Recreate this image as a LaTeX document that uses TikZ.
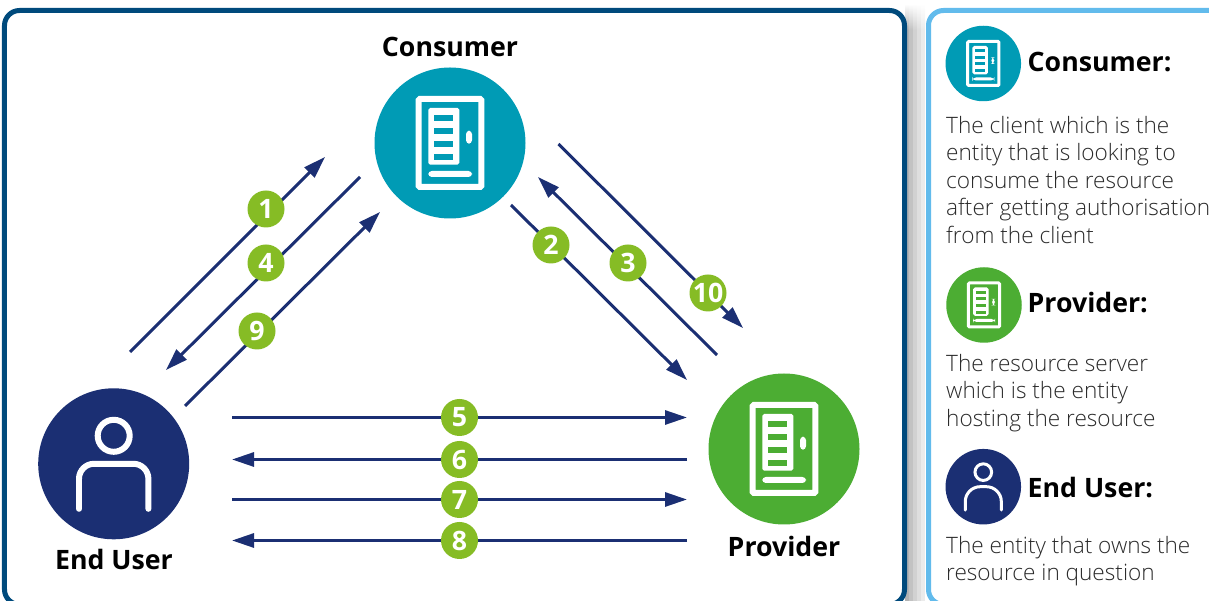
\documentclass[tikz,border=0pt]{standalone}
\usepackage{fontspec}
\setmainfont{Open Sans}
\newfontfamily\lightfont{Open Sans Light}
\usetikzlibrary{arrows.meta}
\definecolor{frameBlue}{HTML}{004A7C}
\definecolor{panelBlue}{HTML}{62BBEC}
\definecolor{consumerTeal}{HTML}{009BB5}
\definecolor{providerGreen}{HTML}{4CAD33}
\definecolor{userNavy}{HTML}{1B2F73}
\definecolor{badgeGreen}{HTML}{86BC25}
\definecolor{bodyGray}{HTML}{2A2A2A}
\tikzset{
    actor/.style={circle, inner sep=0pt, minimum size=1.51cm},
    miniactor/.style={circle, inner sep=0pt, minimum size=0.755cm},
    badge/.style={circle, fill=badgeGreen, text=white, inner sep=0pt, minimum size=0.37cm, font=\fontsize{7.6}{8}\selectfont\bfseries},
    flow/.style={draw=userNavy, line width=0.03cm, -{Triangle[length=0.22cm,width=0.14cm]}},
    title/.style={font=\fontsize{7.6}{9}\selectfont\bfseries, text=black, inner sep=0pt},
    blurb/.style={font=\lightfont\fontsize{6.43}{7.82}\selectfont, text=bodyGray, inner sep=0pt, anchor=north west, align=left},
    pics/door/.style n args={2}{code={
        \draw[white, line width=#2, rounded corners=0.3pt] (-0.313,-0.44) rectangle (0.313,0.44);
        \fill[white, rounded corners=0.5pt] (-0.217,-0.35) rectangle (0.093,0.217);
        \foreach \slot in {-0.28,-0.153,-0.02,0.113}
            \fill[#1] (-0.16,\slot) rectangle (0.033,\slot+0.06);
        \fill[white, rounded corners=1pt] (0.16,-0.123) rectangle (0.22,0.007);
        \fill[white, rounded corners=1pt] (-0.217,0.28) rectangle (0.22,0.34);
    }},
    pics/person/.style={code={
        \draw[white, line width=#1] (0,-0.28) circle (0.16);
        \draw[white, line width=#1, line cap=round, rounded corners=0.15cm] (-0.347,0.45) -- (-0.347,0) -- (0.347,0) -- (0.347,0.45);
    }}
}
\begin{document}
\begin{tikzpicture}[x=1cm, y=-1cm]
    \useasboundingbox (0,0) rectangle (12.09,6.01);
    % --- Sombra entre los marcos ---
    \foreach \x/\tone in {9.05/30,9.09/24,9.13/18,9.17/13,9.21/8} {
        \shade[top color=white, bottom color=black!\tone] (\x,0.04) rectangle (\x+0.04,0.3);
        \fill[black!\tone] (\x,0.3) rectangle (\x+0.04,6.01);
    }
    % --- Marcos ---
    \begin{scope}
        \clip (0,0) rectangle (12.09,6.01);
        \draw[frameBlue, line width=0.05cm, fill=white, rounded corners=0.15cm] (0.045,0.105) rectangle (9.045,6.045);
        \draw[panelBlue, line width=0.05cm, fill=white, rounded corners=0.15cm] (9.285,0.105) rectangle (12.4,6.045);
    \end{scope}
    % --- Actores ---
    \node[actor, fill=consumerTeal] (Consumer) at (4.50,1.43) {};
    \node[actor, fill=providerGreen] (Provider) at (7.84,4.49) {};
    \node[actor, fill=userNavy] (EndUser) at (1.137,4.638) {};
    \pic at (Consumer) {door={consumerTeal}{0.06cm}};
    \pic at (Provider) {door={providerGreen}{0.06cm}};
    \pic at (EndUser) {person=0.06cm};
    \node[title] (ConsumerName) at (4.50,0.47) {Consumer};
    \node[title] (ProviderName) at (7.84,5.46) {Provider};
    \node[title] (EndUserName) at (1.14,5.59) {End User};
    % --- Flechas entre actores ---
    \coordinate (s1) at (1.30,3.52);  \coordinate (e1) at (3.25,1.57);
    \coordinate (s2) at (5.11,2.05);  \coordinate (e2) at (6.87,3.80);
    \coordinate (s3) at (7.17,3.55);  \coordinate (e3) at (5.38,1.77);
    \coordinate (s4) at (3.60,1.77);  \coordinate (e4) at (1.66,3.70);
    \coordinate (s5) at (2.32,4.175);  \coordinate (e5) at (6.87,4.175);
    \coordinate (s6) at (6.87,4.595);  \coordinate (e6) at (2.32,4.595);
    \coordinate (s7) at (2.32,4.995);  \coordinate (e7) at (6.87,4.995);
    \coordinate (s8) at (6.87,5.405);  \coordinate (e8) at (2.32,5.405);
    \coordinate (s9) at (1.85,4.06);  \coordinate (e9) at (3.80,2.12);
    \coordinate (s10) at (5.585,1.44);  \coordinate (e10) at (7.43,3.28);
    \draw[flow] (s1) -- (e1);
    \draw[flow] (s2) -- (e2);
    \draw[flow] (s3) -- (e3);
    \draw[flow] (s4) -- (e4);
    \draw[flow] (s5) -- (e5);
    \draw[flow] (s6) -- (e6);
    \draw[flow] (s7) -- (e7);
    \draw[flow] (s8) -- (e8);
    \draw[flow] (s9) -- (e9);
    \draw[flow] (s10) -- (e10);
    % --- Pasos numerados ---
    \node[badge] (Step1) at (2.66,2.09) {1};
    \node[badge] (Step2) at (5.51,2.45) {2};
    \node[badge] (Step3) at (6.28,2.63) {3};
    \node[badge] (Step4) at (2.66,2.63) {4};
    \node[badge] (Step5) at (4.595,4.175) {5};
    \node[badge] (Step6) at (4.595,4.595) {6};
    \node[badge] (Step7) at (4.595,4.995) {7};
    \node[badge] (Step8) at (4.595,5.405) {8};
    \node[badge] (Step9) at (2.57,3.31) {9};
    \node[badge] (Step10) at (7.08,2.93) {10};
    % --- Leyenda ---
    \node[miniactor, fill=consumerTeal] (MiniConsumer) at (9.833,0.635) {};
    \pic[scale=0.5] at (MiniConsumer) {door={consumerTeal}{0.03cm}};
    \node[title, anchor=west] (MiniConsumerName) at (10.27,0.62) {Consumer:};
    \node[blurb] (ConsumerText) at (9.455,1.152) {The client which is the\\entity that is looking to\\consume the resource\\after getting authorisation\\from the client};
    \node[miniactor, fill=providerGreen] (MiniProvider) at (9.84,3.05) {};
    \pic[scale=0.5] at (MiniProvider) {door={providerGreen}{0.03cm}};
    \node[title, anchor=west] (MiniProviderName) at (10.27,3.03) {Provider:};
    \node[blurb] (ProviderText) at (9.455,3.535) {The resource server\\which is the entity\\hosting the resource};
    \node[miniactor, fill=userNavy] (MiniUser) at (9.833,4.867) {};
    \pic[scale=0.52] at (MiniUser) {person=0.03cm};
    \node[title, anchor=west] (MiniUserName) at (10.27,4.88) {End User:};
    \node[blurb] (EndUserText) at (9.455,5.355) {The entity that owns the\\resource in question};
\end{tikzpicture}
\end{document}
